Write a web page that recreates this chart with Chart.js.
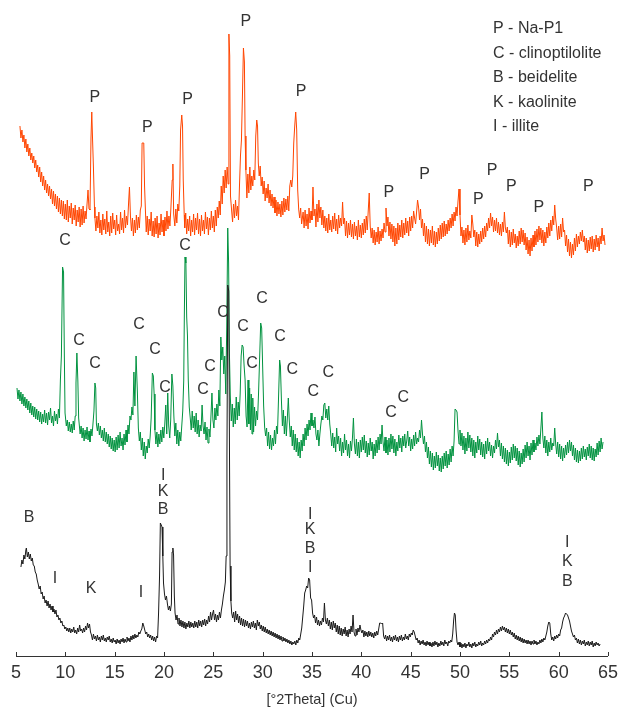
<!DOCTYPE html>
<html>
<head>
<meta charset="utf-8">
<script src="https://cdn.jsdelivr.net/npm/chart.js@4.4.1/dist/chart.umd.min.js"></script>
<style>
  html, body { margin: 0; padding: 0; background: #fff; }
  #wrap { width: 624px; height: 709px; }
</style>
</head>
<body>
<div id="wrap"><canvas id="xrd" width="624" height="709"></canvas></div>
<script>
// 2theta positions and intensities (arbitrary units)
const orangeTheta = [
  5.4, 5.5, 5.6, 5.7, 5.8, 5.9, 6.0, 6.1, 6.2, 6.3,
  6.4, 6.5, 6.6, 6.7, 6.8, 6.9, 7.0, 7.1, 7.2, 7.3,
  7.4, 7.5, 7.6, 7.7, 7.8, 7.9, 8.0, 8.1, 8.2, 8.3,
  8.4, 8.5, 8.6, 8.7, 8.8, 8.9, 9.0, 9.1, 9.2, 9.3,
  9.4, 9.5, 9.6, 9.7, 9.8, 9.9, 10.0, 10.1, 10.2, 10.3,
  10.4, 10.5, 10.6, 10.7, 10.8, 10.9, 11.0, 11.1, 11.2, 11.3,
  11.4, 11.5, 11.6, 11.7, 11.8, 11.9, 12.0, 12.1, 12.2, 12.3,
  12.4, 12.5, 12.6, 12.68, 12.75, 12.85, 12.95, 13.0, 13.1, 13.2,
  13.3, 13.4, 13.5, 13.6, 13.7, 13.8, 13.9, 14.0, 14.1, 14.2,
  14.3, 14.4, 14.5, 14.6, 14.7, 14.8, 14.9, 15.0, 15.1, 15.2,
  15.3, 15.4, 15.5, 15.6, 15.7, 15.8, 15.9, 16.0, 16.1, 16.2,
  16.3, 16.42, 16.5, 16.6, 16.7, 16.8, 16.9, 17.0, 17.1, 17.2,
  17.3, 17.4, 17.5, 17.6, 17.7, 17.78, 17.95, 18.03, 18.12, 18.2,
  18.3, 18.4, 18.5, 18.6, 18.7, 18.8, 18.9, 19.0, 19.1, 19.2,
  19.3, 19.4, 19.5, 19.6, 19.7, 19.8, 19.9, 20.0, 20.1, 20.2,
  20.3, 20.4, 20.5, 20.6, 20.7, 20.83, 20.9, 20.98, 21.1, 21.2,
  21.3, 21.4, 21.5, 21.6, 21.68, 21.8, 21.88, 21.95, 22.05, 22.1,
  22.2, 22.3, 22.4, 22.5, 22.6, 22.7, 22.8, 22.9, 23.0, 23.1,
  23.2, 23.3, 23.4, 23.5, 23.6, 23.7, 23.8, 23.9, 24.0, 24.1,
  24.2, 24.3, 24.4, 24.5, 24.6, 24.7, 24.8, 24.9, 25.0, 25.1,
  25.2, 25.3, 25.4, 25.5, 25.6, 25.7, 25.8, 25.9, 26.0, 26.1,
  26.2, 26.3, 26.4, 26.5, 26.58, 26.66, 26.74, 26.85, 26.95, 27.05,
  27.15, 27.25, 27.35, 27.45, 27.55, 27.65, 27.75, 27.85, 27.95, 28.05,
  28.15, 28.22, 28.3, 28.4, 28.5, 28.6, 28.7, 28.8, 28.9, 29.0,
  29.1, 29.2, 29.3, 29.4, 29.48, 29.56, 29.65, 29.75, 29.85, 29.95,
  30.05, 30.15, 30.25, 30.35, 30.45, 30.55, 30.65, 30.75, 30.85, 30.95,
  31.05, 31.15, 31.25, 31.35, 31.45, 31.55, 31.65, 31.75, 31.85, 31.95,
  32.05, 32.15, 32.25, 32.35, 32.45, 32.55, 32.65, 32.75, 32.85, 32.95,
  33.05, 33.15, 33.25, 33.35, 33.45, 33.55, 33.65, 33.75, 33.85, 33.95,
  34.1, 34.2, 34.3, 34.4, 34.5, 34.6, 34.7, 34.8, 34.9, 35.0,
  35.1, 35.2, 35.3, 35.4, 35.5, 35.6, 35.7, 35.8, 35.9, 36.0,
  36.1, 36.2, 36.3, 36.4, 36.5, 36.6, 36.7, 36.8, 36.9, 37.0,
  37.1, 37.2, 37.3, 37.4, 37.5, 37.6, 37.7, 37.8, 37.9, 38.0,
  38.1, 38.2, 38.3, 38.4, 38.5, 38.6, 38.7, 38.8, 38.9, 39.0,
  39.1, 39.2, 39.3, 39.4, 39.5, 39.6, 39.7, 39.8, 39.9, 40.0,
  40.1, 40.2, 40.3, 40.4, 40.5, 40.6, 40.7, 40.8, 40.9, 41.0,
  41.1, 41.2, 41.3, 41.4, 41.5, 41.6, 41.7, 41.8, 41.9, 42.0,
  42.1, 42.2, 42.3, 42.4, 42.5, 42.6, 42.7, 42.8, 42.9, 43.0,
  43.1, 43.2, 43.3, 43.4, 43.5, 43.6, 43.7, 43.8, 43.9, 44.0,
  44.1, 44.2, 44.3, 44.4, 44.5, 44.6, 44.7, 44.8, 44.9, 45.0,
  45.1, 45.2, 45.3, 45.4, 45.5, 45.6, 45.7, 45.8, 45.9, 46.0,
  46.1, 46.2, 46.3, 46.4, 46.5, 46.6, 46.7, 46.8, 46.9, 47.0,
  47.1, 47.2, 47.3, 47.4, 47.5, 47.6, 47.7, 47.8, 47.9, 48.0,
  48.1, 48.2, 48.3, 48.4, 48.5, 48.6, 48.7, 48.8, 48.9, 49.0,
  49.1, 49.2, 49.3, 49.4, 49.5, 49.6, 49.7, 49.8, 49.9, 50.0,
  50.1, 50.2, 50.3, 50.4, 50.5, 50.6, 50.7, 50.8, 50.9, 51.0,
  51.1, 51.2, 51.3, 51.4, 51.5, 51.6, 51.7, 51.8, 51.9, 52.0,
  52.1, 52.2, 52.3, 52.4, 52.5, 52.6, 52.7, 52.8, 52.9, 53.0,
  53.1, 53.2, 53.3, 53.4, 53.5, 53.6, 53.7, 53.8, 53.9, 54.0,
  54.1, 54.2, 54.3, 54.4, 54.5, 54.6, 54.7, 54.8, 54.9, 55.0,
  55.1, 55.2, 55.3, 55.4, 55.5, 55.6, 55.7, 55.8, 55.9, 56.0,
  56.1, 56.2, 56.3, 56.4, 56.5, 56.6, 56.7, 56.8, 56.9, 57.0,
  57.1, 57.2, 57.3, 57.4, 57.5, 57.6, 57.7, 57.8, 57.9, 58.0,
  58.1, 58.2, 58.3, 58.4, 58.5, 58.6, 58.7, 58.8, 58.9, 59.0,
  59.1, 59.2, 59.3, 59.4, 59.5, 59.6, 59.7, 59.8, 59.9, 60.0,
  60.1, 60.2, 60.3, 60.4, 60.5, 60.6, 60.7, 60.8, 60.9, 61.0,
  61.1, 61.2, 61.3, 61.4, 61.5, 61.6, 61.7, 61.8, 61.9, 62.0,
  62.1, 62.2, 62.3, 62.4, 62.5, 62.6, 62.7, 62.8, 62.9, 63.0,
  63.1, 63.2, 63.3, 63.4, 63.5, 63.6, 63.7, 63.8, 63.9, 64.0,
  64.1, 64.2, 64.3, 64.4, 64.5, 64.6, 64.7
];
const orangeCounts = [
  530, 518, 526, 514, 521, 508, 517, 504, 512, 500,
  508, 496, 503, 493, 500, 488, 496, 484, 491, 479,
  489, 474, 484, 470, 480, 466, 476, 463, 472, 460,
  470, 457, 467, 452, 465, 450, 462, 447, 460, 444,
  458, 442, 456, 440, 455, 437, 452, 436, 456, 434,
  450, 438, 453, 432, 448, 436, 451, 430, 446, 434,
  449, 429, 447, 431, 450, 433, 445, 437, 452, 466,
  447, 446, 518, 544, 520, 488, 449, 438, 425, 440,
  428, 444, 423, 436, 421, 442, 426, 437, 422, 445,
  424, 434, 420, 440, 423, 443, 427, 436, 421, 441,
  425, 432, 422, 444, 426, 438, 423, 446, 428, 440,
  431, 455, 469, 440, 425, 438, 420, 436, 423, 441,
  426, 439, 428, 446, 450, 513, 513, 470, 445, 424,
  440, 421, 437, 425, 444, 420, 435, 419, 438, 422,
  440, 418, 433, 421, 442, 424, 436, 420, 439, 425,
  445, 427, 440, 430, 448, 476, 492, 442, 430, 447,
  433, 452, 445, 470, 526, 541, 530, 476, 441, 428,
  443, 422, 437, 425, 440, 420, 436, 424, 442, 421,
  438, 426, 443, 422, 437, 420, 441, 425, 436, 422,
  444, 427, 439, 421, 438, 426, 445, 428, 440, 424,
  446, 430, 449, 438, 455, 441, 470, 452, 480, 463,
  486, 468, 489, 472, 622, 600, 460, 446, 434, 452,
  438, 456, 440, 450, 436, 470, 500, 516, 560, 608,
  594, 520, 486, 458, 482, 463, 489, 466, 480, 470,
  486, 476, 520, 536, 530, 493, 480, 490, 470, 479,
  462, 475, 455, 468, 458, 472, 453, 466, 450, 462,
  448, 459, 443, 456, 440, 454, 442, 452, 439, 455,
  441, 458, 444, 457, 446, 460, 445, 470, 476, 469,
  480, 513, 530, 544, 526, 466, 447, 438, 448, 432,
  444, 428, 446, 430, 442, 427, 448, 433, 445, 436,
  469, 440, 447, 429, 452, 434, 456, 438, 449, 431,
  446, 428, 440, 425, 438, 423, 442, 426, 436, 424,
  440, 427, 443, 425, 437, 422, 441, 428, 438, 430,
  454, 432, 438, 420, 435, 418, 433, 421, 436, 419,
  432, 417, 434, 420, 430, 416, 436, 419, 431, 418,
  433, 421, 437, 423, 440, 426, 445, 463, 430, 418,
  428, 413, 426, 411, 424, 414, 429, 412, 425, 415,
  427, 418, 433, 424, 448, 430, 439, 420, 434, 417,
  432, 414, 430, 410, 428, 412, 433, 416, 431, 419,
  436, 418, 433, 421, 438, 423, 435, 420, 439, 425,
  440, 428, 445, 438, 432, 444, 456, 449, 436, 447,
  428, 437, 420, 433, 414, 430, 412, 427, 410, 426,
  413, 430, 411, 425, 409, 424, 412, 428, 415, 431,
  417, 433, 419, 435, 420, 432, 422, 436, 425, 438,
  428, 442, 430, 444, 435, 449, 440, 455, 467, 441,
  420, 429, 413, 426, 411, 428, 414, 431, 416, 425,
  418, 441, 432, 419, 426, 410, 424, 409, 422, 412,
  425, 414, 428, 417, 430, 419, 433, 425, 438, 428,
  443, 430, 439, 424, 436, 425, 438, 423, 434, 421,
  432, 420, 434, 424, 444, 428, 423, 429, 412, 426,
  409, 424, 411, 427, 413, 422, 408, 420, 410, 425,
  412, 428, 414, 426, 411, 423, 406, 419, 402, 416,
  400, 418, 405, 421, 409, 425, 411, 427, 414, 430,
  416, 428, 413, 426, 410, 424, 413, 429, 418, 433,
  420, 436, 425, 440, 431, 451, 437, 428, 416, 430,
  417, 432, 419, 438, 424, 426, 410, 421, 404, 417,
  400, 414, 398, 412, 401, 418, 405, 422, 409, 420,
  412, 424, 415, 426, 414, 420, 406, 418, 403, 416,
  405, 419, 407, 420, 404, 417, 406, 421, 409, 418,
  405, 420, 412, 428, 415, 421, 411
];

const greenTheta = [
  5.1, 5.2, 5.3, 5.4, 5.5, 5.6, 5.7, 5.8, 5.9, 6.0,
  6.1, 6.2, 6.3, 6.4, 6.5, 6.6, 6.7, 6.8, 6.9, 7.0,
  7.1, 7.2, 7.3, 7.4, 7.5, 7.6, 7.7, 7.8, 7.9, 8.0,
  8.1, 8.2, 8.3, 8.4, 8.5, 8.6, 8.7, 8.8, 8.9, 9.0,
  9.1, 9.2, 9.3, 9.4, 9.5, 9.6, 9.72, 9.82, 9.9, 9.97,
  10.1, 10.2, 10.3, 10.4, 10.5, 10.6, 10.7, 10.8, 10.9, 11.0,
  11.08, 11.17, 11.27, 11.35, 11.5, 11.6, 11.7, 11.8, 11.9, 12.0,
  12.1, 12.2, 12.3, 12.4, 12.5, 12.6, 12.7, 12.8, 12.9, 13.0,
  13.08, 13.15, 13.25, 13.35, 13.45, 13.55, 13.65, 13.75, 13.85, 13.95,
  14.05, 14.15, 14.25, 14.35, 14.45, 14.55, 14.65, 14.75, 14.85, 14.95,
  15.05, 15.15, 15.25, 15.35, 15.45, 15.55, 15.65, 15.75, 15.85, 15.95,
  16.05, 16.15, 16.25, 16.35, 16.45, 16.55, 16.65, 16.75, 16.85, 16.95,
  17.05, 17.17, 17.3, 17.4, 17.5, 17.6, 17.7, 17.8, 17.9, 18.0,
  18.1, 18.2, 18.3, 18.4, 18.5, 18.6, 18.7, 18.82, 18.92, 19.0,
  19.08, 19.18, 19.28, 19.38, 19.48, 19.58, 19.68, 19.78, 19.88, 19.98,
  20.08, 20.18, 20.28, 20.38, 20.48, 20.58, 20.68, 20.8, 20.9, 21.0,
  21.1, 21.2, 21.3, 21.4, 21.5, 21.6, 21.7, 21.8, 21.9, 22.0,
  22.06, 22.13, 22.22, 22.3, 22.38, 22.46, 22.56, 22.66, 22.76, 22.86,
  22.96, 23.06, 23.16, 23.26, 23.36, 23.46, 23.56, 23.66, 23.76, 23.86,
  23.96, 24.06, 24.16, 24.26, 24.36, 24.46, 24.56, 24.66, 24.76, 24.86,
  24.96, 25.06, 25.16, 25.26, 25.36, 25.46, 25.56, 25.66, 25.76, 25.86,
  25.96, 26.06, 26.16, 26.26, 26.36, 26.46, 26.55, 26.63, 26.72, 26.82,
  26.92, 27.02, 27.12, 27.22, 27.32, 27.42, 27.52, 27.62, 27.72, 27.82,
  27.92, 28.02, 28.12, 28.22, 28.32, 28.42, 28.52, 28.6, 28.68, 28.76,
  28.84, 28.92, 29.0, 29.08, 29.18, 29.28, 29.38, 29.48, 29.58, 29.7,
  29.8, 29.9, 30.0, 30.1, 30.2, 30.3, 30.4, 30.5, 30.6, 30.7,
  30.8, 30.9, 31.0, 31.1, 31.2, 31.3, 31.4, 31.5, 31.62, 31.72,
  31.8, 31.9, 32.0, 32.1, 32.2, 32.3, 32.4, 32.5, 32.6, 32.7,
  32.8, 32.9, 33.0, 33.1, 33.2, 33.3, 33.4, 33.5, 33.6, 33.7,
  33.8, 33.9, 34.0, 34.1, 34.2, 34.3, 34.4, 34.5, 34.6, 34.7,
  34.8, 34.9, 35.0, 35.1, 35.2, 35.3, 35.4, 35.5, 35.6, 35.7,
  35.8, 35.9, 36.0, 36.1, 36.2, 36.3, 36.4, 36.5, 36.6, 36.7,
  36.8, 36.9, 37.0, 37.1, 37.2, 37.3, 37.4, 37.5, 37.6, 37.7,
  37.8, 37.9, 38.0, 38.1, 38.2, 38.3, 38.4, 38.5, 38.6, 38.7,
  38.8, 38.9, 39.0, 39.1, 39.2, 39.3, 39.4, 39.5, 39.6, 39.7,
  39.8, 39.9, 40.0, 40.1, 40.2, 40.3, 40.4, 40.5, 40.6, 40.7,
  40.8, 40.9, 41.0, 41.1, 41.2, 41.3, 41.4, 41.5, 41.6, 41.7,
  41.8, 41.9, 42.0, 42.1, 42.2, 42.3, 42.4, 42.5, 42.6, 42.7,
  42.8, 42.9, 43.0, 43.1, 43.2, 43.3, 43.4, 43.5, 43.6, 43.7,
  43.8, 43.9, 44.0, 44.1, 44.2, 44.3, 44.4, 44.5, 44.6, 44.7,
  44.8, 44.9, 45.0, 45.1, 45.2, 45.3, 45.4, 45.5, 45.6, 45.7,
  45.8, 45.9, 46.0, 46.1, 46.2, 46.3, 46.4, 46.5, 46.6, 46.7,
  46.8, 46.9, 47.0, 47.1, 47.2, 47.3, 47.4, 47.5, 47.6, 47.7,
  47.8, 47.9, 48.0, 48.1, 48.2, 48.3, 48.4, 48.5, 48.6, 48.7,
  48.8, 48.9, 49.0, 49.1, 49.2, 49.3, 49.4, 49.5, 49.6, 49.7,
  49.8, 49.9, 50.0, 50.1, 50.2, 50.3, 50.4, 50.5, 50.6, 50.7,
  50.8, 50.9, 51.0, 51.1, 51.2, 51.3, 51.4, 51.5, 51.6, 51.7,
  51.8, 51.9, 52.0, 52.1, 52.2, 52.3, 52.4, 52.5, 52.6, 52.7,
  52.8, 52.9, 53.0, 53.1, 53.2, 53.3, 53.4, 53.5, 53.6, 53.7,
  53.8, 53.9, 54.0, 54.1, 54.2, 54.3, 54.4, 54.5, 54.6, 54.7,
  54.8, 54.9, 55.0, 55.1, 55.2, 55.3, 55.4, 55.5, 55.6, 55.7,
  55.8, 55.9, 56.0, 56.1, 56.2, 56.3, 56.4, 56.5, 56.6, 56.7,
  56.8, 56.9, 57.0, 57.1, 57.2, 57.3, 57.4, 57.5, 57.6, 57.7,
  57.8, 57.9, 58.0, 58.1, 58.2, 58.3, 58.4, 58.5, 58.6, 58.7,
  58.8, 58.9, 59.0, 59.1, 59.2, 59.3, 59.4, 59.5, 59.6, 59.7,
  59.8, 59.9, 60.0, 60.1, 60.2, 60.3, 60.4, 60.5, 60.6, 60.7,
  60.8, 60.9, 61.0, 61.1, 61.2, 61.3, 61.4, 61.5, 61.6, 61.7,
  61.8, 61.9, 62.0, 62.1, 62.2, 62.3, 62.4, 62.5, 62.6, 62.7,
  62.8, 62.9, 63.0, 63.1, 63.2, 63.3, 63.4, 63.5, 63.6, 63.7,
  63.8, 63.9, 64.0, 64.1, 64.2, 64.3, 64.4, 64.5
];
const greenCounts = [
  268, 257, 266, 255, 264, 252, 262, 250, 259, 248,
  257, 246, 255, 243, 253, 241, 250, 239, 249, 237,
  247, 236, 245, 234, 244, 232, 242, 234, 246, 233,
  243, 231, 244, 236, 248, 233, 240, 230, 245, 235,
  242, 232, 247, 238, 276, 300, 389, 384, 300, 243,
  230, 236, 225, 234, 224, 232, 223, 235, 226, 240,
  273, 303, 275, 238, 222, 230, 218, 228, 215, 226,
  217, 229, 216, 225, 214, 227, 220, 232, 245, 273,
  268, 232, 225, 233, 221, 230, 218, 226, 215, 228,
  214, 224, 212, 222, 209, 220, 207, 218, 205, 216,
  204, 219, 206, 221, 208, 224, 210, 218, 206, 222,
  211, 226, 214, 231, 222, 240, 236, 249, 241, 284,
  250, 300, 265, 228, 215, 224, 206, 218, 200, 214,
  197, 210, 203, 217, 208, 220, 238, 283, 280, 262,
  226, 212, 224, 209, 222, 212, 226, 214, 229, 218,
  232, 251, 222, 263, 230, 218, 236, 282, 270, 240,
  220, 233, 212, 226, 210, 224, 215, 230, 245, 275,
  339, 399, 393, 339, 320, 276, 249, 238, 226, 245,
  228, 240, 224, 243, 222, 236, 219, 231, 225, 251,
  230, 222, 234, 216, 229, 213, 227, 219, 240, 263,
  236, 228, 248, 236, 252, 240, 266, 250, 319, 296,
  309, 282, 300, 262, 330, 428, 393, 303, 260, 235,
  252, 229, 248, 232, 259, 236, 254, 240, 262, 300,
  311, 309, 290, 276, 240, 229, 276, 232, 268, 226,
  262, 222, 258, 224, 249, 230, 245, 236, 262, 300,
  333, 328, 289, 250, 229, 220, 228, 210, 224, 207,
  221, 206, 218, 210, 226, 212, 230, 222, 262, 296,
  290, 256, 230, 246, 222, 240, 220, 238, 258, 235,
  219, 230, 210, 226, 206, 222, 204, 218, 200, 214,
  198, 216, 205, 222, 210, 228, 216, 232, 220, 236,
  226, 243, 230, 236, 228, 239, 222, 216, 226, 210,
  222, 232, 240, 236, 251, 253, 238, 247, 236, 250,
  232, 222, 210, 223, 208, 219, 204, 228, 212, 220,
  205, 218, 200, 214, 203, 222, 206, 216, 200, 212,
  198, 215, 205, 218, 238, 212, 202, 217, 200, 214,
  198, 216, 204, 219, 206, 221, 203, 215, 199, 213,
  201, 218, 205, 214, 197, 212, 200, 216, 203, 219,
  206, 222, 212, 231, 214, 205, 219, 203, 216, 201,
  218, 204, 222, 207, 220, 203, 217, 200, 214, 205,
  221, 208, 218, 204, 220, 210, 222, 208, 215, 225,
  210, 219, 205, 217, 207, 221, 210, 224, 212, 218,
  214, 226, 218, 236, 222, 212, 220, 204, 214, 198,
  209, 192, 205, 189, 203, 186, 200, 188, 204, 190,
  201, 185, 198, 184, 200, 187, 203, 190, 205, 188,
  202, 191, 207, 194, 210, 200, 215, 247, 246, 244,
  225, 212, 226, 210, 223, 206, 220, 202, 218, 205,
  224, 208, 221, 204, 218, 200, 216, 198, 214, 203,
  220, 206, 217, 201, 214, 199, 212, 197, 215, 202,
  218, 205, 214, 200, 211, 198, 210, 203, 216, 207,
  223, 209, 216, 200, 213, 197, 210, 194, 208, 192,
  206, 190, 204, 193, 209, 196, 212, 198, 210, 195,
  208, 191, 205, 189, 203, 192, 207, 194, 211, 198,
  214, 200, 210, 196, 213, 201, 216, 204, 213, 206,
  219, 210, 221, 212, 228, 244, 218, 208, 220, 203,
  216, 200, 214, 204, 218, 206, 213, 210, 228, 212,
  202, 214, 199, 212, 197, 210, 195, 208, 198, 211,
  201, 214, 203, 216, 205, 214, 200, 211, 196, 208,
  194, 206, 193, 205, 195, 208, 197, 210, 199, 207,
  196, 209, 200, 212, 198, 210, 196, 208, 195, 207,
  199, 213, 201, 215, 204, 218, 207, 214
];

const blackTheta = [
  5.5, 5.6, 5.7, 5.8, 5.9, 6.0, 6.05, 6.15, 6.25, 6.35,
  6.45, 6.55, 6.65, 6.75, 6.85, 6.95, 7.05, 7.15, 7.25, 7.35,
  7.45, 7.55, 7.65, 7.75, 7.85, 7.95, 8.05, 8.15, 8.25, 8.35,
  8.45, 8.55, 8.65, 8.75, 8.85, 8.95, 9.05, 9.15, 9.25, 9.35,
  9.45, 9.55, 9.65, 9.75, 9.85, 9.95, 10.05, 10.15, 10.25, 10.35,
  10.45, 10.55, 10.65, 10.75, 10.85, 10.95, 11.05, 11.15, 11.25, 11.35,
  11.45, 11.55, 11.65, 11.75, 11.85, 11.95, 12.05, 12.15, 12.25, 12.35,
  12.45, 12.55, 12.65, 12.75, 12.85, 12.95, 13.05, 13.15, 13.25, 13.35,
  13.45, 13.55, 13.65, 13.75, 13.85, 13.95, 14.05, 14.15, 14.25, 14.35,
  14.45, 14.55, 14.65, 14.75, 14.85, 14.95, 15.05, 15.15, 15.25, 15.35,
  15.45, 15.55, 15.65, 15.75, 15.85, 15.95, 16.05, 16.15, 16.25, 16.35,
  16.45, 16.55, 16.65, 16.75, 16.85, 16.95, 17.05, 17.15, 17.25, 17.35,
  17.45, 17.55, 17.65, 17.75, 17.85, 17.95, 18.05, 18.15, 18.25, 18.35,
  18.45, 18.55, 18.65, 18.75, 18.85, 18.95, 19.05, 19.15, 19.25, 19.35,
  19.45, 19.55, 19.63, 19.72, 19.8, 19.88, 19.95, 20.05, 20.15, 20.25,
  20.35, 20.45, 20.55, 20.65, 20.75, 20.82, 20.9, 20.97, 21.05, 21.12,
  21.22, 21.32, 21.42, 21.52, 21.62, 21.72, 21.82, 21.92, 22.02, 22.12,
  22.22, 22.32, 22.42, 22.52, 22.62, 22.72, 22.82, 22.92, 23.02, 23.12,
  23.22, 23.32, 23.42, 23.52, 23.62, 23.72, 23.82, 23.92, 24.02, 24.12,
  24.22, 24.32, 24.42, 24.52, 24.62, 24.72, 24.82, 24.92, 25.02, 25.12,
  25.22, 25.32, 25.42, 25.52, 25.62, 25.72, 25.82, 25.92, 26.02, 26.12,
  26.22, 26.3, 26.38, 26.46, 26.56, 26.64, 26.7, 26.78, 26.86, 26.96,
  27.06, 27.16, 27.26, 27.36, 27.46, 27.56, 27.66, 27.76, 27.86, 27.96,
  28.06, 28.16, 28.26, 28.36, 28.46, 28.56, 28.66, 28.76, 28.86, 28.96,
  29.06, 29.16, 29.26, 29.36, 29.46, 29.56, 29.66, 29.76, 29.86, 29.96,
  30.06, 30.16, 30.26, 30.36, 30.46, 30.56, 30.66, 30.76, 30.86, 30.96,
  31.06, 31.16, 31.26, 31.36, 31.46, 31.56, 31.66, 31.76, 31.86, 31.96,
  32.06, 32.16, 32.26, 32.36, 32.46, 32.56, 32.66, 32.76, 32.86, 32.96,
  33.06, 33.16, 33.26, 33.36, 33.46, 33.56, 33.66, 33.76, 33.86, 33.96,
  34.06, 34.16, 34.26, 34.36, 34.46, 34.56, 34.66, 34.76, 34.86, 34.96,
  35.06, 35.16, 35.26, 35.36, 35.46, 35.56, 35.66, 35.76, 35.86, 35.96,
  36.06, 36.16, 36.26, 36.36, 36.46, 36.56, 36.66, 36.76, 36.86, 36.96,
  37.06, 37.16, 37.26, 37.36, 37.46, 37.56, 37.66, 37.76, 37.86, 37.96,
  38.06, 38.16, 38.26, 38.36, 38.46, 38.56, 38.66, 38.76, 38.86, 38.96,
  39.06, 39.16, 39.26, 39.36, 39.46, 39.56, 39.66, 39.76, 39.86, 39.96,
  40.06, 40.16, 40.26, 40.36, 40.46, 40.56, 40.66, 40.76, 40.86, 40.96,
  41.06, 41.16, 41.26, 41.36, 41.46, 41.56, 41.66, 41.76, 41.86, 41.96,
  42.06, 42.16, 42.26, 42.36, 42.46, 42.56, 42.66, 42.76, 42.86, 42.96,
  43.06, 43.16, 43.26, 43.36, 43.46, 43.56, 43.66, 43.76, 43.86, 43.96,
  44.06, 44.16, 44.26, 44.36, 44.46, 44.56, 44.66, 44.76, 44.86, 44.96,
  45.06, 45.16, 45.26, 45.36, 45.46, 45.56, 45.66, 45.76, 45.86, 45.96,
  46.06, 46.16, 46.26, 46.36, 46.46, 46.56, 46.66, 46.76, 46.86, 46.96,
  47.06, 47.16, 47.26, 47.36, 47.46, 47.56, 47.66, 47.76, 47.86, 47.96,
  48.06, 48.16, 48.26, 48.36, 48.46, 48.56, 48.66, 48.76, 48.86, 48.96,
  49.06, 49.16, 49.26, 49.36, 49.44, 49.52, 49.6, 49.7, 49.8, 49.9,
  50.0, 50.1, 50.2, 50.3, 50.4, 50.5, 50.6, 50.7, 50.8, 50.9,
  51.0, 51.1, 51.2, 51.3, 51.4, 51.5, 51.6, 51.7, 51.8, 51.9,
  52.0, 52.1, 52.2, 52.3, 52.4, 52.5, 52.6, 52.7, 52.8, 52.9,
  53.0, 53.1, 53.2, 53.3, 53.4, 53.5, 53.6, 53.7, 53.8, 53.9,
  54.0, 54.1, 54.2, 54.3, 54.4, 54.5, 54.6, 54.7, 54.8, 54.9,
  55.0, 55.1, 55.2, 55.3, 55.4, 55.5, 55.6, 55.7, 55.8, 55.9,
  56.0, 56.1, 56.2, 56.3, 56.4, 56.5, 56.6, 56.7, 56.8, 56.9,
  57.0, 57.1, 57.2, 57.3, 57.4, 57.5, 57.6, 57.7, 57.8, 57.9,
  58.0, 58.1, 58.2, 58.3, 58.4, 58.5, 58.6, 58.7, 58.8, 58.9,
  59.0, 59.1, 59.2, 59.3, 59.4, 59.5, 59.6, 59.7, 59.8, 59.9,
  60.0, 60.1, 60.2, 60.3, 60.4, 60.5, 60.6, 60.7, 60.8, 60.9,
  61.0, 61.1, 61.2, 61.3, 61.4, 61.5, 61.6, 61.7, 61.8, 61.9,
  62.0, 62.1, 62.2, 62.3, 62.4, 62.5, 62.6, 62.7, 62.8, 62.9,
  63.0, 63.1, 63.2, 63.3, 63.4, 63.5, 63.6, 63.7, 63.8, 63.9,
  64.0, 64.1, 64.2
];
const blackCounts = [
  89, 96, 92, 101, 97, 106, 108, 99, 104, 97,
  102, 95, 98, 91, 90, 84, 82, 76, 72, 67,
  70, 62, 64, 57, 60, 53, 56, 50, 55, 48,
  52, 46, 50, 44, 47, 42, 46, 39, 41, 36,
  38, 33, 35, 30, 31, 27, 29, 25, 28, 24,
  28, 23, 27, 24, 29, 23, 26, 22, 28, 24,
  31, 25, 27, 23, 28, 24, 30, 26, 33, 28,
  32, 24, 21, 16, 22, 17, 20, 15, 21, 16,
  19, 14, 20, 16, 21, 15, 18, 14, 19, 16,
  20, 14, 17, 13, 18, 14, 16, 12, 17, 13,
  16, 12, 17, 14, 18, 13, 17, 14, 19, 15,
  18, 14, 20, 16, 21, 17, 22, 18, 21, 19,
  24, 22, 25, 27, 33, 30, 26, 22, 24, 19,
  22, 18, 21, 16, 20, 15, 19, 14, 20, 18,
  43, 80, 133, 131, 129, 100, 73, 62, 56, 60,
  52, 46, 50, 45, 52, 104, 108, 101, 60, 43,
  36, 41, 32, 38, 30, 36, 29, 35, 28, 34,
  27, 33, 29, 35, 28, 34, 29, 33, 28, 35,
  29, 34, 28, 36, 30, 35, 29, 36, 31, 37,
  30, 36, 32, 40, 34, 44, 36, 42, 46, 36,
  42, 34, 41, 36, 44, 38, 46, 52, 60, 66,
  74, 100, 200, 371, 365, 200, 90, 55, 43, 38,
  44, 34, 45, 36, 42, 33, 40, 31, 38, 30,
  37, 29, 36, 30, 35, 28, 33, 27, 34, 29,
  35, 28, 33, 26, 36, 30, 34, 27, 31, 25,
  30, 24, 29, 23, 27, 22, 26, 21, 25, 20,
  24, 19, 23, 18, 22, 17, 21, 16, 20, 15,
  19, 15, 18, 14, 17, 13, 16, 12, 15, 11,
  14, 12, 15, 11, 16, 13, 18, 16, 22, 28,
  39, 50, 63, 66, 70, 68, 78, 76, 58, 56,
  43, 38, 41, 33, 39, 31, 36, 30, 35, 31,
  38, 34, 53, 36, 32, 38, 30, 36, 27, 34,
  26, 35, 28, 33, 24, 31, 22, 30, 21, 28,
  20, 27, 22, 29, 20, 26, 19, 27, 22, 30,
  24, 41, 24, 20, 27, 21, 28, 24, 31, 26,
  23, 26, 19, 25, 20, 24, 19, 25, 20, 24,
  19, 23, 18, 24, 20, 25, 21, 27, 33, 33,
  32, 33, 20, 17, 21, 15, 20, 16, 21, 15,
  19, 14, 20, 16, 21, 15, 19, 14, 20, 16,
  21, 15, 19, 16, 22, 17, 20, 16, 22, 19,
  23, 21, 26, 24, 20, 16, 18, 13, 16, 11,
  15, 12, 16, 11, 14, 10, 15, 11, 14, 10,
  13, 9, 14, 10, 15, 11, 14, 9, 13, 10,
  15, 11, 14, 10, 16, 12, 14, 10, 15, 13,
  16, 14, 22, 36, 43, 41, 26, 14, 11, 14,
  9, 13, 8, 12, 9, 13, 8, 12, 10, 14,
  9, 12, 8, 13, 10, 14, 9, 12, 10, 14,
  11, 15, 10, 13, 11, 15, 12, 16, 13, 17,
  15, 19, 16, 22, 19, 24, 21, 26, 22, 27,
  24, 29, 25, 30, 26, 29, 24, 28, 23, 27,
  22, 26, 21, 24, 19, 23, 17, 21, 16, 20,
  15, 19, 14, 18, 13, 17, 13, 16, 12, 16,
  12, 15, 11, 15, 12, 16, 12, 15, 11, 14,
  12, 16, 13, 17, 14, 18, 16, 20, 24, 30,
  34, 33, 22, 16, 19, 15, 20, 17, 21, 18,
  22, 20, 26, 28, 34, 38, 40, 43, 42, 41,
  38, 35, 30, 25, 22, 19, 21, 16, 18, 13,
  17, 12, 16, 11, 15, 12, 16, 10, 14, 11,
  15, 10, 14, 11, 15, 9, 13, 10, 14, 11,
  13, 10, 12
];

// phase marks placed above the peaks (2theta, intensity)
const orangeMarkTheta = [13.0, 18.3, 22.4, 28.3, 33.9, 42.8, 46.4, 51.85, 53.25, 55.2, 58.0, 63.0];
const orangeMarkLevel = [558, 528, 556, 634, 564, 463, 481, 456, 485, 469, 448, 469];

const greenMarkTheta = [9.97, 11.39, 13.01, 17.47, 19.09, 20.11, 22.14, 23.96, 24.67, 25.99,
  28.02, 28.93, 29.94, 31.77, 32.99, 35.12, 36.64, 43.02, 44.24];
const greenMarkLevel = [415, 315, 292, 331, 306, 268, 410, 266, 289, 343,
  329, 292, 357, 319, 286, 264, 283, 243, 258];

const blackMarkText = ['B', 'I', 'K', 'I', 'I', 'K', 'B', 'I', 'K', 'B', 'I', 'I', 'K', 'B'];
const blackMarkTheta = [6.32, 8.95, 12.6, 17.67, 19.91, 19.91, 19.91, 34.81, 34.81, 34.81, 34.81, 60.87, 60.87, 60.87];
const blackMarkLevel = [138, 77, 67, 63, 180, 164, 146, 141, 126, 107, 88, 113, 94, 74];

const keyLines = ['P - Na-P1', 'C - clinoptilolite', 'B - beidelite', 'K - kaolinite', 'I - illite'];

const FONT = "'Liberation Sans', Arial, sans-serif";
const TEXT = '#333333';

function toPoints(xs, ys) {
    return xs.map((x, i) => ({ x: x, y: ys[i] }));
}

// letters over the peaks + the key in the top right corner
const peakMarks = {
    id: 'peakMarks',
    afterDatasetsDraw(chart) {
        const { ctx, chartArea, scales: { x, y } } = chart;
        ctx.save();
        ctx.fillStyle = TEXT;
        ctx.font = '16px ' + FONT;
        ctx.textAlign = 'center';
        ctx.textBaseline = 'middle';
        orangeMarkTheta.forEach((t, i) => ctx.fillText('P', x.getPixelForValue(t), y.getPixelForValue(orangeMarkLevel[i])));
        greenMarkTheta.forEach((t, i) => ctx.fillText('C', x.getPixelForValue(t), y.getPixelForValue(greenMarkLevel[i])));
        blackMarkText.forEach((s, i) => ctx.fillText(s, x.getPixelForValue(blackMarkTheta[i]), y.getPixelForValue(blackMarkLevel[i])));

        ctx.textAlign = 'left';
        keyLines.forEach((s, i) => ctx.fillText(s, chartArea.right - 115, chartArea.top + 29 + i * 24.4));
        ctx.restore();
    }
};

// short tick marks pointing up from the axis line
const innerTicks = {
    id: 'innerTicks',
    afterDraw(chart) {
        const { ctx, chartArea, scales: { x } } = chart;
        ctx.save();
        ctx.strokeStyle = TEXT;
        ctx.lineWidth = 1;
        x.ticks.forEach(t => {
            const px = Math.round(x.getPixelForValue(t.value)) + 0.5;
            ctx.beginPath();
            ctx.moveTo(px, chartArea.bottom);
            ctx.lineTo(px, chartArea.bottom - 4);
            ctx.stroke();
        });
        ctx.restore();
    }
};

function scan(data, colour) {
    return {
        data: data,
        showLine: true,
        borderColor: colour,
        borderWidth: 1,
        borderJoinStyle: 'bevel',
        pointRadius: 0,
        tension: 0
    };
}

new Chart(document.getElementById('xrd'), {
    type: 'scatter',
    data: {
        datasets: [
            scan(toPoints(blackTheta, blackCounts), '#1a1a1a'),
            scan(toPoints(greenTheta, greenCounts), '#00923f'),
            scan(toPoints(orangeTheta, orangeCounts), '#ff4500')
        ]
    },
    options: {
        responsive: false,
        animation: false,
        layout: { padding: { left: 16, right: 16, top: 0, bottom: 0 } },
        plugins: {
            legend: { display: false },
            tooltip: { enabled: false }
        },
        scales: {
            x: {
                type: 'linear',
                min: 5,
                max: 65,
                ticks: {
                    stepSize: 5,
                    color: TEXT,
                    font: { family: FONT, size: 18 },
                    padding: 6,
                    maxRotation: 0
                },
                grid: { display: false, drawTicks: false },
                border: { display: true, color: TEXT, width: 1 },
                title: {
                    display: true,
                    text: '[°2Theta] (Cu)',
                    color: TEXT,
                    font: { family: FONT, size: 14.5 },
                    padding: { top: 2, bottom: 0 }
                }
            },
            y: { display: false, min: 0, max: 656 }
        }
    },
    plugins: [peakMarks, innerTicks]
});
</script>
</body>
</html>
